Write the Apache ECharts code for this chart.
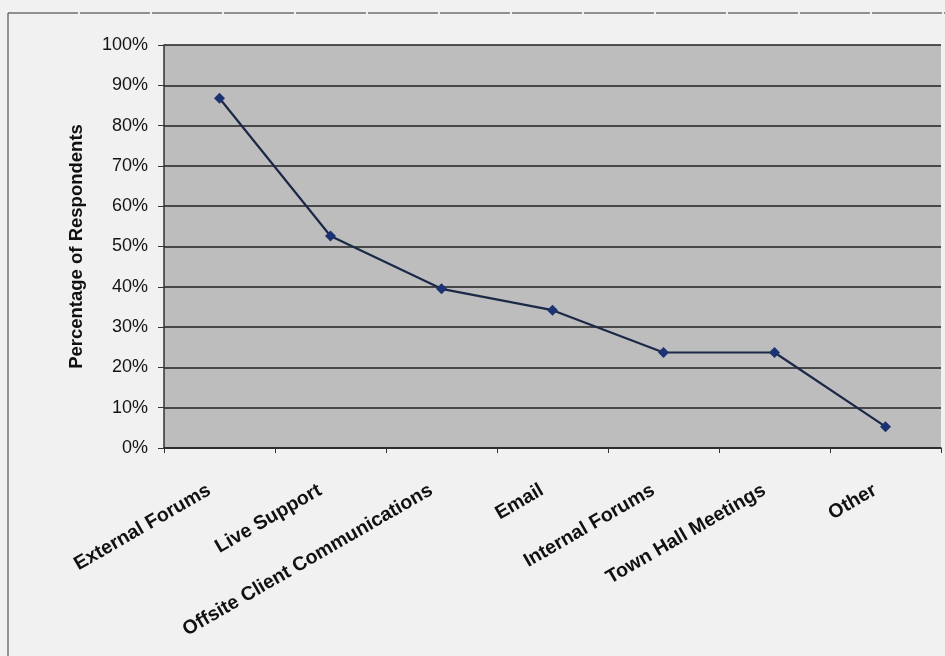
<!DOCTYPE html>
<html>
<head>
<meta charset="utf-8">
<script src="https://cdn.jsdelivr.net/npm/echarts@6/dist/echarts.min.js"></script>
<style>
  html, body { margin: 0; padding: 0; background: #f1f1f1; }
  #chart { width: 945px; height: 656px; }
</style>
</head>
<body>
<div id="chart"></div>
<script>
// Communication channels and share of respondents using each (percent)
const channels = [
  'External Forums',
  'Live Support',
  'Offsite Client Communications',
  'Email',
  'Internal Forums',
  'Town Hall Meetings',
  'Other'
];
const respondentShare = [86.8, 52.6, 39.5, 34.2, 23.7, 23.7, 5.3];
const yTicks = [0, 10, 20, 30, 40, 50, 60, 70, 80, 90, 100];

const FONT = "'Liberation Sans', Arial, sans-serif";

const chart = echarts.init(document.getElementById('chart'), null, { renderer: 'canvas' });

chart.setOption({
  backgroundColor: '#f1f1f1',
  animation: false,
  graphic: [
    // outer chart frame (top and left edges)
    { type: 'line', shape: { x1: 8, y1: 13, x2: 945, y2: 13 },
      style: { stroke: '#707070', lineWidth: 1.5, lineDash: [70, 2] } },
    { type: 'line', shape: { x1: 8, y1: 13, x2: 8, y2: 656 },
      style: { stroke: '#555555', lineWidth: 1.2 } }
  ],
  grid: {
    left: 164, right: 4, top: 45, bottom: 208,
    show: true, backgroundColor: '#bdbdbd', borderWidth: 0
  },
  xAxis: {
    type: 'category',
    data: channels,
    boundaryGap: true,
    axisLine: { show: true, lineStyle: { color: '#222', width: 1.5 } },
    axisTick: { show: true, length: 5, inside: false, lineStyle: { color: '#333' } },
    axisLabel: {
      interval: 0,
      rotate: 30,
      margin: 35,
      padding: [0, 12, 0, 0],
      color: '#111',
      fontFamily: FONT,
      fontWeight: 'bold',
      fontSize: 19.5
    },
    splitLine: { show: false }
  },
  yAxis: {
    type: 'value',
    min: yTicks[0],
    max: yTicks[yTicks.length - 1],
    interval: yTicks[1] - yTicks[0],
    name: 'Percentage of Respondents',
    nameLocation: 'middle',
    nameGap: 78,
    nameTextStyle: { color: '#111', fontFamily: FONT, fontWeight: 'bold', fontSize: 18.5 },
    axisLine: { show: true, lineStyle: { color: '#333', width: 1.5 } },
    axisTick: { show: true, length: 6, lineStyle: { color: '#333' } },
    axisLabel: {
      margin: 16,
      color: '#141414',
      fontFamily: FONT,
      fontSize: 18,
      formatter: '{value}%'
    },
    splitLine: { show: true, lineStyle: { color: '#222', width: 1.6 } }
  },
  series: [{
    type: 'line',
    data: respondentShare,
    symbol: 'diamond',
    symbolSize: 11,
    lineStyle: { color: '#1b2846', width: 2.2 },
    itemStyle: { color: '#1b3372' }
  }]
});
</script>
</body>
</html>
